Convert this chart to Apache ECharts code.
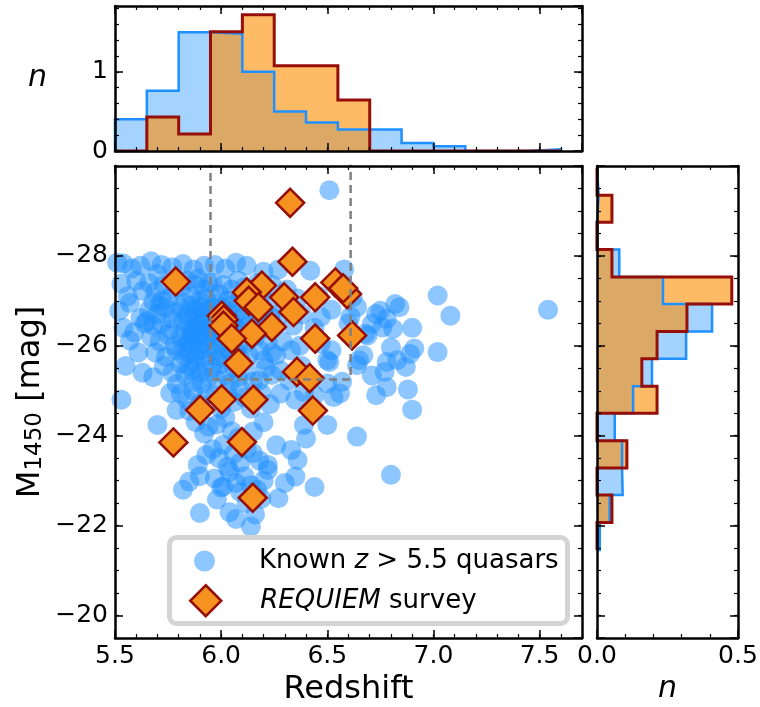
<!DOCTYPE html>
<html>
<head>
<meta charset="utf-8">
<script src="https://cdn.jsdelivr.net/npm/echarts@6/dist/echarts.min.js"></script>
<style>
  html, body { margin: 0; padding: 0; background: #fff; }
  #chart { width: 760px; height: 707px; }
</style>
</head>
<body>
<div id="chart"></div>
<script>
// ---- Data -------------------------------------------------------------
// Known z > 5.5 quasars: [redshift, M1450]
const knownQuasars = [
  // z 5.50 - 5.65
  [5.51,-27.85],[5.54,-27.83],[5.58,-27.72],[5.62,-27.78],[5.53,-27.38],[5.60,-27.45],[5.56,-27.10],
  [5.63,-27.22],[5.52,-26.78],[5.57,-26.95],[5.62,-26.62],[5.54,-26.40],[5.59,-26.30],[5.64,-26.50],
  [5.57,-26.12],[5.61,-25.85],[5.55,-25.55],[5.63,-25.40],[5.53,-24.80],
  // z 5.65 - 5.80
  [5.67,-27.88],[5.72,-27.80],[5.77,-27.75],[5.70,-27.60],
  [5.66,-27.40],[5.69,-27.20],[5.73,-27.35],[5.75,-27.05],[5.78,-27.25],[5.68,-26.98],[5.72,-27.00],[5.79,-27.45],
  [5.66,-26.80],[5.70,-26.70],[5.74,-26.85],[5.77,-26.60],[5.68,-26.45],[5.72,-26.50],[5.76,-26.35],[5.79,-26.75],
  [5.71,-26.90],[5.65,-26.55],
  [5.67,-26.20],[5.71,-26.10],[5.75,-26.25],[5.78,-26.00],[5.69,-25.85],[5.74,-25.75],[5.79,-25.90],
  [5.68,-25.30],[5.73,-25.55],[5.77,-25.40],[5.79,-25.15],
  [5.70,-24.24],[5.79,-24.57],[5.76,-24.95],
  // z 5.80 - 5.95
  [5.82,-27.82],[5.87,-27.70],[5.92,-27.78],
  [5.81,-27.30],[5.84,-27.45],[5.86,-27.10],[5.88,-27.35],[5.90,-27.00],[5.92,-27.25],[5.94,-27.40],[5.83,-26.95],
  [5.89,-27.50],[5.93,-27.05],
  [5.81,-26.85],[5.82,-26.55],[5.83,-26.35],[5.84,-26.70],[5.85,-26.45],[5.86,-26.90],[5.87,-26.60],[5.88,-26.80],
  [5.88,-26.40],[5.89,-26.65],[5.90,-26.50],[5.91,-26.85],[5.91,-26.35],[5.92,-26.70],[5.93,-26.55],[5.94,-26.40],
  [5.94,-26.80],[5.86,-26.30],
  [5.81,-26.20],[5.82,-25.95],[5.83,-25.75],[5.84,-26.10],[5.85,-25.85],[5.86,-26.25],[5.87,-26.00],[5.88,-25.80],
  [5.89,-26.15],[5.90,-25.90],[5.91,-26.05],[5.92,-25.75],[5.93,-26.20],[5.94,-25.95],[5.90,-26.28],[5.85,-26.05],
  [5.81,-25.60],[5.83,-25.35],[5.85,-25.55],[5.87,-25.20],[5.88,-25.65],[5.90,-25.40],[5.91,-25.15],[5.92,-25.55],
  [5.94,-25.30],[5.86,-25.45],
  [5.81,-24.94],[5.84,-24.80],[5.87,-25.00],[5.90,-24.70],[5.93,-24.90],[5.85,-24.55],
  [5.92,-24.05],[5.88,-24.30],[5.94,-24.20],
  [5.93,-23.57],[5.89,-23.35],
  [5.85,-22.98],[5.82,-22.80],[5.90,-23.10],
  [5.90,-22.28],
  // z 5.95 - 6.10
  [5.97,-27.80],[6.02,-27.72],[6.07,-27.85],
  [5.96,-27.40],[5.99,-27.15],[6.01,-27.35],[6.03,-27.00],[6.05,-27.25],[6.08,-27.45],[6.09,-27.05],[5.98,-26.95],
  [5.96,-26.85],[5.97,-26.50],[5.98,-26.70],[5.99,-26.35],[6.00,-26.60],[6.01,-26.85],[6.02,-26.40],[6.03,-26.75],
  [6.04,-26.55],[6.05,-26.90],[6.06,-26.45],[6.07,-26.70],[6.08,-26.35],[6.09,-26.60],[5.97,-26.30],[6.04,-26.32],
  [5.96,-26.15],[5.97,-25.90],[5.99,-26.05],[6.00,-25.75],[6.01,-26.25],[6.03,-25.95],[6.04,-26.10],[6.05,-25.80],
  [6.06,-26.20],[6.07,-25.85],[6.08,-26.00],[6.09,-25.72],[5.98,-25.70],
  [5.96,-25.50],[5.98,-25.25],[6.00,-25.60],[6.02,-25.35],[6.04,-25.15],[6.06,-25.50],[6.08,-25.30],[6.09,-25.60],
  [5.97,-24.90],[6.00,-24.60],[6.03,-24.95],[6.06,-24.75],[6.09,-25.05],
  [5.98,-24.25],[6.02,-24.40],[6.05,-24.10],[6.08,-23.95],
  [5.96,-23.70],[5.99,-23.50],[6.01,-23.80],[6.03,-23.31],[6.06,-23.60],[6.09,-23.40],
  [5.97,-23.05],[6.00,-22.85],[6.01,-22.87],[6.04,-23.20],[6.07,-22.95],[6.09,-22.75],
  [5.98,-22.58],[6.04,-22.30],[6.07,-22.15],
  // z 6.10 - 6.25
  [6.12,-27.78],[6.20,-27.65],
  [6.11,-27.30],[6.14,-27.05],[6.17,-27.40],[6.19,-27.15],[6.22,-26.95],[6.24,-27.35],
  [6.11,-26.70],[6.13,-26.45],[6.15,-26.85],[6.16,-26.35],[6.18,-26.60],[6.20,-26.80],[6.21,-26.40],[6.23,-26.65],
  [6.24,-26.50],
  [6.11,-26.05],[6.13,-25.80],[6.16,-26.20],[6.18,-25.90],[6.20,-25.68],[6.22,-26.10],[6.24,-25.85],
  [6.12,-25.45],[6.15,-25.20],[6.18,-25.23],[6.21,-25.50],[6.24,-25.35],
  [6.11,-24.85],[6.14,-24.60],[6.19,-24.95],[6.23,-24.70],
  [6.15,-24.09],[6.20,-24.30],
  [6.12,-23.70],[6.15,-23.61],[6.18,-23.45],[6.22,-23.35],
  [6.11,-23.10],[6.14,-22.90],[6.17,-22.80],[6.22,-23.24],[6.20,-23.00],
  [6.12,-22.50],[6.16,-22.25],[6.19,-22.60],
  [6.14,-21.98],
  // z 6.25 - 6.40
  [6.27,-27.70],[6.31,-27.25],[6.36,-27.05],[6.26,-26.60],[6.30,-26.85],[6.34,-26.45],[6.38,-26.70],[6.26,-25.79],
  [6.29,-26.10],[6.33,-25.90],[6.37,-26.00],[6.28,-25.45],[6.32,-25.23],[6.38,-25.55],[6.28,-24.94],[6.35,-24.80],
  [6.39,-24.97],[6.26,-23.79],[6.39,-24.24],[6.33,-23.68],[6.36,-23.46],[6.35,-23.09],[6.27,-22.61],[6.30,-22.95],
  // z 6.40 - 6.55
  [6.51,-29.46],[6.42,-27.67],[6.46,-27.10],[6.47,-26.64],[6.44,-26.40],[6.47,-26.05],[6.52,-25.90],[6.50,-25.68],
  [6.51,-25.64],[6.50,-25.16],[6.44,-24.90],[6.53,-24.86],[6.50,-24.24],[6.40,-23.94],[6.44,-22.86],[6.52,-26.80],
  [6.42,-25.30],
  // z 6.55 - 6.70
  [6.58,-27.70],[6.61,-26.65],[6.62,-27.08],[6.64,-26.86],[6.68,-26.27],[6.69,-26.23],[6.67,-25.79],[6.65,-25.68],
  [6.64,-25.57],[6.56,-24.94],[6.64,-23.98],[6.60,-26.50],[6.57,-25.20],
  // z 6.70 - 6.85
  [6.82,-26.93],[6.84,-26.86],[6.75,-26.78],[6.73,-26.71],[6.78,-26.60],[6.71,-26.49],[6.76,-26.41],[6.81,-26.38],
  [6.80,-25.96],[6.78,-25.64],[6.77,-25.42],[6.71,-25.34],[6.78,-25.08],[6.80,-23.13],[6.73,-24.90],[6.83,-25.68],
  // z > 6.85
  [6.90,-26.40],[6.91,-25.94],[6.89,-25.82],[6.87,-25.53],[6.88,-25.03],[6.90,-24.58],
  [7.02,-27.12],[7.08,-26.67],[7.02,-25.86],
  [7.54,-26.80]
];

// REQUIEM survey quasars: [redshift, M1450]
const requiemQuasars = [
  [6.325,-29.18],[6.336,-27.87],[5.786,-27.43],[6.192,-27.34],[6.121,-27.19],[6.130,-27.00],[6.297,-27.08],
  [6.443,-27.08],[6.538,-27.41],[6.593,-27.15],[6.575,-27.28],[6.176,-26.86],[6.341,-26.75],[6.003,-26.67],
  [6.012,-26.58],[6.011,-26.45],[6.239,-26.42],[6.145,-26.27],[6.050,-26.16],[6.443,-26.16],[6.617,-26.23],
  [6.082,-25.61],[6.357,-25.42],[6.417,-25.28],[5.775,-23.85],[5.901,-24.57],[6.003,-24.81],[6.152,-24.80],
  [6.098,-23.86],[6.149,-22.62],[6.432,-24.56]
];

// Normalised redshift histograms (bin edges + density per bin)
const zEdges = [5.5, 5.65, 5.8, 5.95, 6.1, 6.25, 6.4, 6.55, 6.7, 6.85, 7.0, 7.15, 7.3, 7.45, 7.6];
const knownZDensity   = [0.40, 0.76, 1.50, 1.48, 1.00, 0.50, 0.36, 0.27, 0.27, 0.10, 0.06, 0, 0, 0.02];
const requiemZDensity = [0, 0.43, 0.215, 1.505, 1.72, 1.075, 1.075, 0.645, 0, 0, 0, 0, 0, 0];

// Normalised magnitude histograms
const mEdges = [-29.96, -29.35, -28.75, -28.14, -27.53, -26.93, -26.32, -25.71, -25.10, -24.50,
                -23.89, -23.28, -22.68, -22.07, -21.46];
const knownMDensity   = [0.006, 0, 0, 0.079, 0.234, 0.408, 0.316, 0.195, 0.128, 0.063, 0.089, 0.091, 0.045, 0.010];
const requiemMDensity = [0, 0.053, 0, 0.053, 0.478, 0.319, 0.213, 0.159, 0.213, 0, 0.106, 0, 0.053, 0];

// Selection region (dashed box)
const selectionBox = { zMin: 5.95, zMax: 6.61, mFaint: -25.25 };

// Axis ranges
const zRange = [5.5, 7.7];
const mRange = [-30, -19.5];
const nTopRange = [0, 1.83];
const nSideRange = [0, 0.5];

const legendLabels = {
  known: 'Known {i|z} > 5.5 quasars',
  requiem: '{i|REQUIEM} survey'
};

// ---- Styling ----------------------------------------------------------
const FONT = 'DejaVu Sans';
const BLUE = 'rgb(30,144,255)';
const BLUE_PT = 'rgba(30,144,255,0.5)';
const BLUE_FILL = 'rgba(30,144,255,0.40)';
const ORANGE_PT = 'rgb(245,146,32)';
const ORANGE_FILL = 'rgba(255,140,0,0.6)';
const DARKRED = 'rgb(150,14,8)';

function tickLabel(extra) {
  return Object.assign({ show: true, color: '#000', fontSize: 25, fontFamily: FONT, margin: 7 }, extra);
}
function majorAxis(o) {
  return Object.assign({
    type: 'value', z: 10,
    splitLine: { show: false },
    axisLine: { show: true, onZero: false, lineStyle: { color: '#000', width: 2.5 } },
    axisTick: { show: true, inside: true, length: 8, lineStyle: { color: '#000', width: 1.5 } },
    axisLabel: { show: false },
    minorTick: { show: false },
    nameMoveOverlap: false
  }, o);
}
function minorAxis(o) {
  return majorAxis(Object.assign({
    axisLine: { show: false, onZero: false },
    axisTick: { show: true, inside: true, length: 4, lineStyle: { color: '#000', width: 1.2 } }
  }, o));
}
const minusFmt = v => (v < 0 ? '\u2212' + Math.abs(v) : String(v));

const xAxes = [
  // main panel
  majorAxis({ gridIndex: 0, position: 'bottom', min: zRange[0], max: zRange[1], interval: 0.5,
    axisLabel: tickLabel({ formatter: v => v.toFixed(1), showMaxLabel: false, margin: 6 }),
    name: 'Redshift', nameLocation: 'middle', nameGap: 36,
    nameTextStyle: { fontSize: 32, fontFamily: FONT, color: '#000' } }),
  minorAxis({ gridIndex: 0, position: 'bottom', min: zRange[0], max: zRange[1], interval: 0.1 }),
  majorAxis({ gridIndex: 0, position: 'top', min: zRange[0], max: zRange[1], interval: 0.5 }),
  minorAxis({ gridIndex: 0, position: 'top', min: zRange[0], max: zRange[1], interval: 0.1 }),
  // top histogram
  majorAxis({ gridIndex: 1, position: 'bottom', min: zRange[0], max: zRange[1], interval: 0.5 }),
  minorAxis({ gridIndex: 1, position: 'bottom', min: zRange[0], max: zRange[1], interval: 0.1 }),
  majorAxis({ gridIndex: 1, position: 'top', min: zRange[0], max: zRange[1], interval: 0.5 }),
  minorAxis({ gridIndex: 1, position: 'top', min: zRange[0], max: zRange[1], interval: 0.1 }),
  // side histogram
  majorAxis({ gridIndex: 2, position: 'bottom', min: nSideRange[0], max: nSideRange[1], interval: 0.5,
    axisLabel: tickLabel({ formatter: v => v.toFixed(1), margin: 6 }),
    name: 'n', nameLocation: 'middle', nameGap: 36,
    nameTextStyle: { fontSize: 30, fontFamily: FONT, fontStyle: 'italic', color: '#000' } }),
  minorAxis({ gridIndex: 2, position: 'bottom', min: nSideRange[0], max: nSideRange[1], interval: 0.1 }),
  majorAxis({ gridIndex: 2, position: 'top', min: nSideRange[0], max: nSideRange[1], interval: 0.5 }),
  minorAxis({ gridIndex: 2, position: 'top', min: nSideRange[0], max: nSideRange[1], interval: 0.1 })
];

const yAxes = [
  // main panel
  majorAxis({ gridIndex: 0, position: 'left', inverse: true, min: mRange[0], max: mRange[1], interval: 2,
    axisLabel: tickLabel({ formatter: minusFmt, showMinLabel: false, showMaxLabel: false }),
    name: '{m|M}{s|1450}{m| [mag]}', nameLocation: 'middle', nameGap: 68,
    nameTextStyle: { fontSize: 32, fontFamily: FONT, color: '#000',
      rich: { m: { fontSize: 32, fontFamily: FONT, color: '#000' },
              s: { fontSize: 23, fontFamily: FONT, color: '#000', lineHeight: 20, verticalAlign: 'bottom' } } } }),
  minorAxis({ gridIndex: 0, position: 'left', inverse: true, min: mRange[0], max: mRange[1], interval: 0.5 }),
  majorAxis({ gridIndex: 0, position: 'right', inverse: true, min: mRange[0], max: mRange[1], interval: 2 }),
  minorAxis({ gridIndex: 0, position: 'right', inverse: true, min: mRange[0], max: mRange[1], interval: 0.5 }),
  // top histogram
  majorAxis({ gridIndex: 1, position: 'left', min: nTopRange[0], max: nTopRange[1], interval: 1,
    axisLabel: tickLabel({ formatter: v => String(v), showMaxLabel: false }),
    name: 'n', nameLocation: 'middle', nameRotate: 0, nameGap: 68,
    nameTextStyle: { fontSize: 30, fontFamily: FONT, fontStyle: 'italic', color: '#000' } }),
  minorAxis({ gridIndex: 1, position: 'left', min: nTopRange[0], max: nTopRange[1], interval: 0.2 }),
  majorAxis({ gridIndex: 1, position: 'right', min: nTopRange[0], max: nTopRange[1], interval: 1 }),
  minorAxis({ gridIndex: 1, position: 'right', min: nTopRange[0], max: nTopRange[1], interval: 0.2 }),
  // side histogram
  majorAxis({ gridIndex: 2, position: 'left', inverse: true, min: mRange[0], max: mRange[1], interval: 2 }),
  minorAxis({ gridIndex: 2, position: 'left', inverse: true, min: mRange[0], max: mRange[1], interval: 0.5 }),
  majorAxis({ gridIndex: 2, position: 'right', inverse: true, min: mRange[0], max: mRange[1], interval: 2 }),
  minorAxis({ gridIndex: 2, position: 'right', inverse: true, min: mRange[0], max: mRange[1], interval: 0.5 })
];

// ---- Histogram helpers ------------------------------------------------
// Filled bins, drawn as pixel-snapped rectangles so neighbouring bins share edges cleanly.
function histFill(edges, dens, vertical, axisIdx, color) {
  const rows = dens.map((d, i) => [edges[i], edges[i + 1], d]);
  return {
    type: 'custom', xAxisIndex: axisIdx, yAxisIndex: axisIdx, silent: true, clip: true,
    data: rows,
    encode: vertical ? { x: 2, y: [0, 1] } : { x: [0, 1], y: 2 },
    renderItem: function (params, api) {
      const lo = api.value(0), hi = api.value(1), h = api.value(2);
      const a = vertical ? api.coord([0, lo]) : api.coord([lo, 0]);
      const b = vertical ? api.coord([h, hi]) : api.coord([hi, h]);
      const x0 = Math.round(Math.min(a[0], b[0])), x1 = Math.round(Math.max(a[0], b[0]));
      const y0 = Math.round(Math.min(a[1], b[1])), y1 = Math.round(Math.max(a[1], b[1]));
      return { type: 'rect', shape: { x: x0, y: y0, width: x1 - x0, height: y1 - y0 },
               style: { fill: color } };
    }
  };
}
// Step outline of a histogram (the baseline runs under the axis line).
function stepOutline(edges, dens, vertical) {
  const pts = [];
  const push = (pos, val) => pts.push(vertical ? [val, pos] : [pos, val]);
  push(edges[0], 0);
  dens.forEach((d, i) => { push(edges[i], d); push(edges[i + 1], d); });
  push(edges[edges.length - 1], 0);
  return pts;
}
function histLine(edges, dens, vertical, axisIdx, color, width) {
  return {
    type: 'line', xAxisIndex: axisIdx, yAxisIndex: axisIdx, silent: true, clip: true,
    data: stepOutline(edges, dens, vertical), symbol: 'none', showSymbol: false,
    lineStyle: { color: color, width: width, join: 'miter' }
  };
}

const boxPath = [
  [selectionBox.zMin, mRange[0] - 1],
  [selectionBox.zMin, selectionBox.mFaint],
  [selectionBox.zMax, selectionBox.mFaint],
  [selectionBox.zMax, mRange[0] - 1]
];

const legendText = {
  fontSize: 26, fontFamily: FONT, color: '#000',
  rich: { i: { fontSize: 26, fontFamily: FONT, fontStyle: 'italic', color: '#000' } }
};

const option = {
  animation: false,
  backgroundColor: '#fff',
  grid: [
    { left: 115, top: 166, width: 467, height: 472, outerBoundsMode: 'none' },
    { left: 115, top: 6, width: 467, height: 145, outerBoundsMode: 'none' },
    { left: 597, top: 166, width: 141, height: 472, outerBoundsMode: 'none' }
  ],
  xAxis: xAxes,
  yAxis: yAxes,
  legend: [
    { data: ['known'], left: 194, top: 548, orient: 'vertical', padding: 0,
      itemWidth: 21, itemHeight: 21, selectedMode: false, z: 40,
      itemStyle: { color: BLUE_PT, borderWidth: 0 },
      formatter: name => legendLabels[name],
      textStyle: Object.assign({ padding: [0, 0, 0, 39] }, legendText) },
    { data: ['requiem'], left: 189, top: 584, orient: 'vertical', padding: 0,
      itemWidth: 31, itemHeight: 31, selectedMode: false, z: 40,
      itemStyle: { color: ORANGE_PT, borderColor: DARKRED, borderWidth: 2.5 },
      formatter: name => legendLabels[name],
      textStyle: Object.assign({ padding: [0, 0, 0, 34] }, legendText) }
  ],
  graphic: [
    { type: 'rect', z: 30, silent: true,
      shape: { x: 169.5, y: 537.5, width: 398, height: 86, r: 7 },
      style: { fill: 'rgba(255,255,255,0.82)', stroke: '#d4d4d4', lineWidth: 5 } }
  ],
  series: [
    { type: 'scatter', name: 'known', xAxisIndex: 0, yAxisIndex: 0, data: knownQuasars,
      symbol: 'circle', symbolSize: 20, itemStyle: { color: BLUE_PT, opacity: 1 }, silent: true,
      emphasis: { disabled: true } },
    { type: 'line', name: 'selection', xAxisIndex: 0, yAxisIndex: 0, data: boxPath,
      symbol: 'none', showSymbol: false, clip: true, silent: true,
      lineStyle: { color: '#808080', width: 2.5, type: [8, 5] } },
    { type: 'scatter', name: 'requiem', xAxisIndex: 0, yAxisIndex: 0, data: requiemQuasars,
      symbol: 'diamond', symbolSize: 28, silent: true, emphasis: { disabled: true },
      itemStyle: { color: ORANGE_PT, opacity: 1, borderColor: DARKRED, borderWidth: 2.5 } },

    histFill(zEdges, knownZDensity, false, 4, BLUE_FILL),
    histLine(zEdges, knownZDensity, false, 4, BLUE, 2.5),
    histFill(zEdges, requiemZDensity, false, 4, ORANGE_FILL),
    histLine(zEdges, requiemZDensity, false, 4, DARKRED, 3),

    histFill(mEdges, knownMDensity, true, 8, BLUE_FILL),
    histLine(mEdges, knownMDensity, true, 8, BLUE, 2.5),
    histFill(mEdges, requiemMDensity, true, 8, ORANGE_FILL),
    histLine(mEdges, requiemMDensity, true, 8, DARKRED, 3)
  ]
};

const chart = echarts.init(document.getElementById('chart'), null, { renderer: 'canvas' });
chart.setOption(option);
</script>
</body>
</html>
